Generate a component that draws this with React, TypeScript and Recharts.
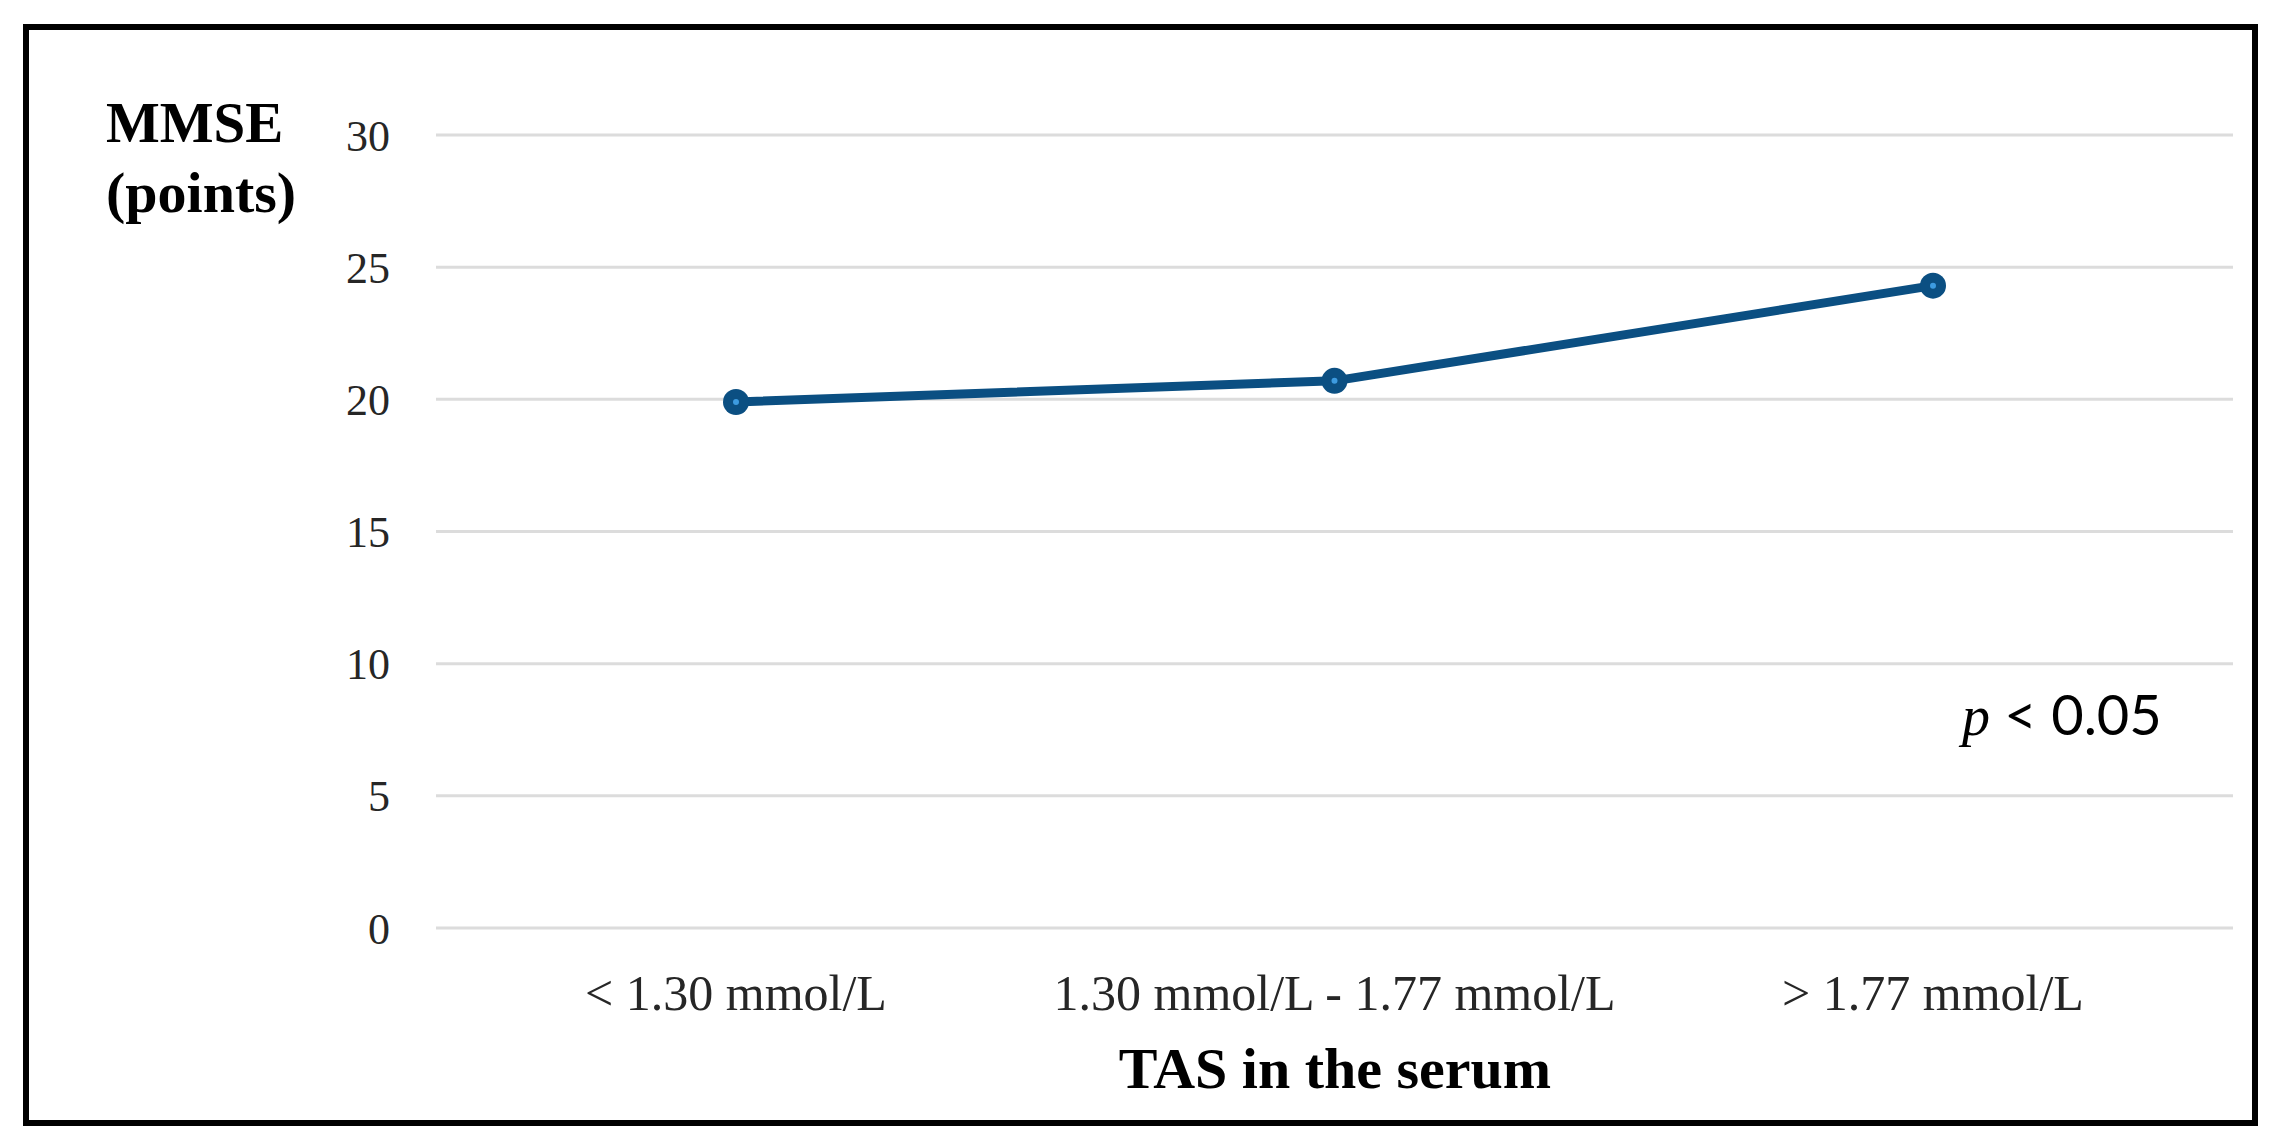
import React from 'react';
import { LineChart, Line, XAxis, YAxis, CartesianGrid } from 'recharts';

// TAS groups (x axis) and mean MMSE score per group
const categories = ['< 1.30 mmol/L', '1.30 mmol/L - 1.77 mmol/L', '> 1.77 mmol/L'];
const mmseValues = [19.9, 20.7, 24.3];
const yTicks = [0, 5, 10, 15, 20, 25, 30];

const LINE_COLOR = '#0b4f82';
const SERIF = '"Liberation Serif", "DejaVu Serif", serif';

const data = categories.map((category, i) => ({ category, mmse: mmseValues[i] }));

// Excel-like marker: dark disc with a small light centre
const MarkerDot = (props: any) => {
  const { cx, cy } = props;
  if (cx == null || cy == null) return null;
  return (
    <g>
      <circle cx={cx} cy={cy} r={13} fill={LINE_COLOR} />
      <circle cx={cx} cy={cy} r={3} fill="#3d9be0" />
    </g>
  );
};

export default function App() {
  return (
    <div style={{ position: 'absolute', left: 0, top: 0, width: 2281, height: 1146, background: '#fff' }}>
      <LineChart
        width={2281}
        height={1146}
        data={data}
        margin={{ top: 135, right: 48, bottom: 138, left: 376 }}
      >
        <CartesianGrid vertical={false} stroke="#dcdcdc" strokeWidth={3} />
        <XAxis
          dataKey="category"
          height={80}
          padding={{ left: 300, right: 300 }}
          axisLine={false}
          tickLine={false}
          tickSize={0}
          tickMargin={46}
          interval={0}
          tick={{ fill: '#262626', fontSize: 50, fontFamily: SERIF }}
        />
        <YAxis
          width={60}
          domain={[0, 30]}
          ticks={yTicks}
          axisLine={false}
          tickLine={false}
          tickSize={0}
          tickMargin={46}
          tick={{ fill: '#262626', fontSize: 44, fontFamily: SERIF }}
        />
        <Line
          type="linear"
          dataKey="mmse"
          stroke={LINE_COLOR}
          strokeWidth={9}
          dot={<MarkerDot />}
          activeDot={false}
          isAnimationActive={false}
        />
      </LineChart>

      {/* titles and annotation */}
      <svg
        width={2281}
        height={1146}
        style={{ position: 'absolute', left: 0, top: 0, pointerEvents: 'none' }}
      >
        <text x={106} y={142} fontFamily={SERIF} fontWeight="bold" fontSize={57} fill="#000">MMSE</text>
        <text x={106} y={212} fontFamily={SERIF} fontWeight="bold" fontSize={58} fill="#000">(points)</text>
        <text x={1335} y={1088} textAnchor="middle" fontFamily={SERIF} fontWeight="bold" fontSize={58} fill="#000">
          TAS in the serum
        </text>
        <text x={1962} y={735} fontSize={56} fill="#000" fontFamily='"Lato", "Liberation Sans", sans-serif'>
          <tspan fontFamily={SERIF} fontStyle="italic">p</tspan>
          <tspan> &lt; 0.05</tspan>
        </text>
      </svg>

      {/* frame */}
      <div
        style={{
          position: 'absolute',
          left: 23,
          top: 24,
          width: 2235,
          height: 1102,
          border: '6px solid #000',
          boxSizing: 'border-box',
          pointerEvents: 'none',
        }}
      />
    </div>
  );
}
